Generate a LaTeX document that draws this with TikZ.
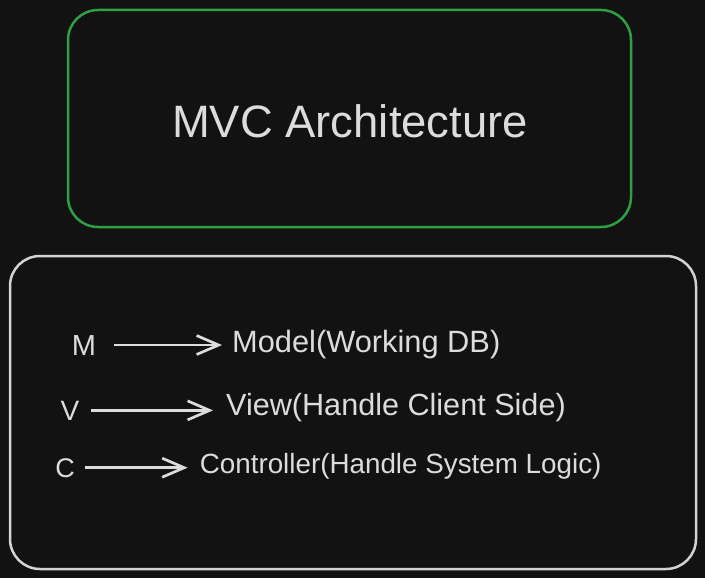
\documentclass[tikz,border=0pt]{standalone}
\usepackage{fontspec}
\setmainfont{Liberation Sans}
\usetikzlibrary{arrows.meta, positioning}
\definecolor{bgdark}{HTML}{121212}
\definecolor{boxgreen}{HTML}{2F9E44}
\definecolor{boxgrey}{HTML}{D3D3D3}
\definecolor{inkgrey}{HTML}{DCDCDC}

\begin{document}
\begin{tikzpicture}[x=1pt, y=-1pt,
    every node/.style={text=inkgrey, inner sep=0pt, anchor=base},
    panel/.style={line width=2.5pt, rounded corners=30pt},
    arr/.style={draw=inkgrey, line width=2.7pt, -{Straight Barb[length=22pt, width=19pt]}}]
    % Background
    \fill[bgdark] (0,0) rectangle (705,578);
    \useasboundingbox (0,0) rectangle (705,578);

    % Title box
    \draw[panel, boxgreen] (68,10) rectangle (631,227);
    \node (title) at (350,137) {\fontsize{45.4}{54}\selectfont MVC Architecture};

    % Lower box
    \draw[panel, boxgrey] (10,256) rectangle (696,569);

    % Letters
    \node (m) at (84,355) {\fontsize{29}{35}\selectfont M};
    \node (v) at (70,420) {\fontsize{28}{34}\selectfont V};
    \node (c) at (65,477) {\fontsize{27}{32}\selectfont C};

    % Meanings
    \node (model) [anchor=base west] at (232,352) {\fontsize{30.8}{36}\selectfont Model(Working DB)};
    \node (view) [anchor=base west] at (226,415) {\fontsize{30.6}{36}\selectfont View(Handle Client Side)};
    \node (ctrl) [anchor=base west] at (199.6,473) {\fontsize{27.8}{33}\selectfont Controller(Handle System Logic)};

    % Arrows
    \draw[arr, shorten <=18pt, shorten >=10pt] (m.east) -- (m.east -| model.west);
    \draw[arr, shorten <=11pt, shorten >=13pt] (v.east) -- (v.east -| view.west);
    \draw[arr, shorten <=10pt, shorten >=12pt] (c.east) -- (c.east -| ctrl.west);
\end{tikzpicture}
\end{document}
